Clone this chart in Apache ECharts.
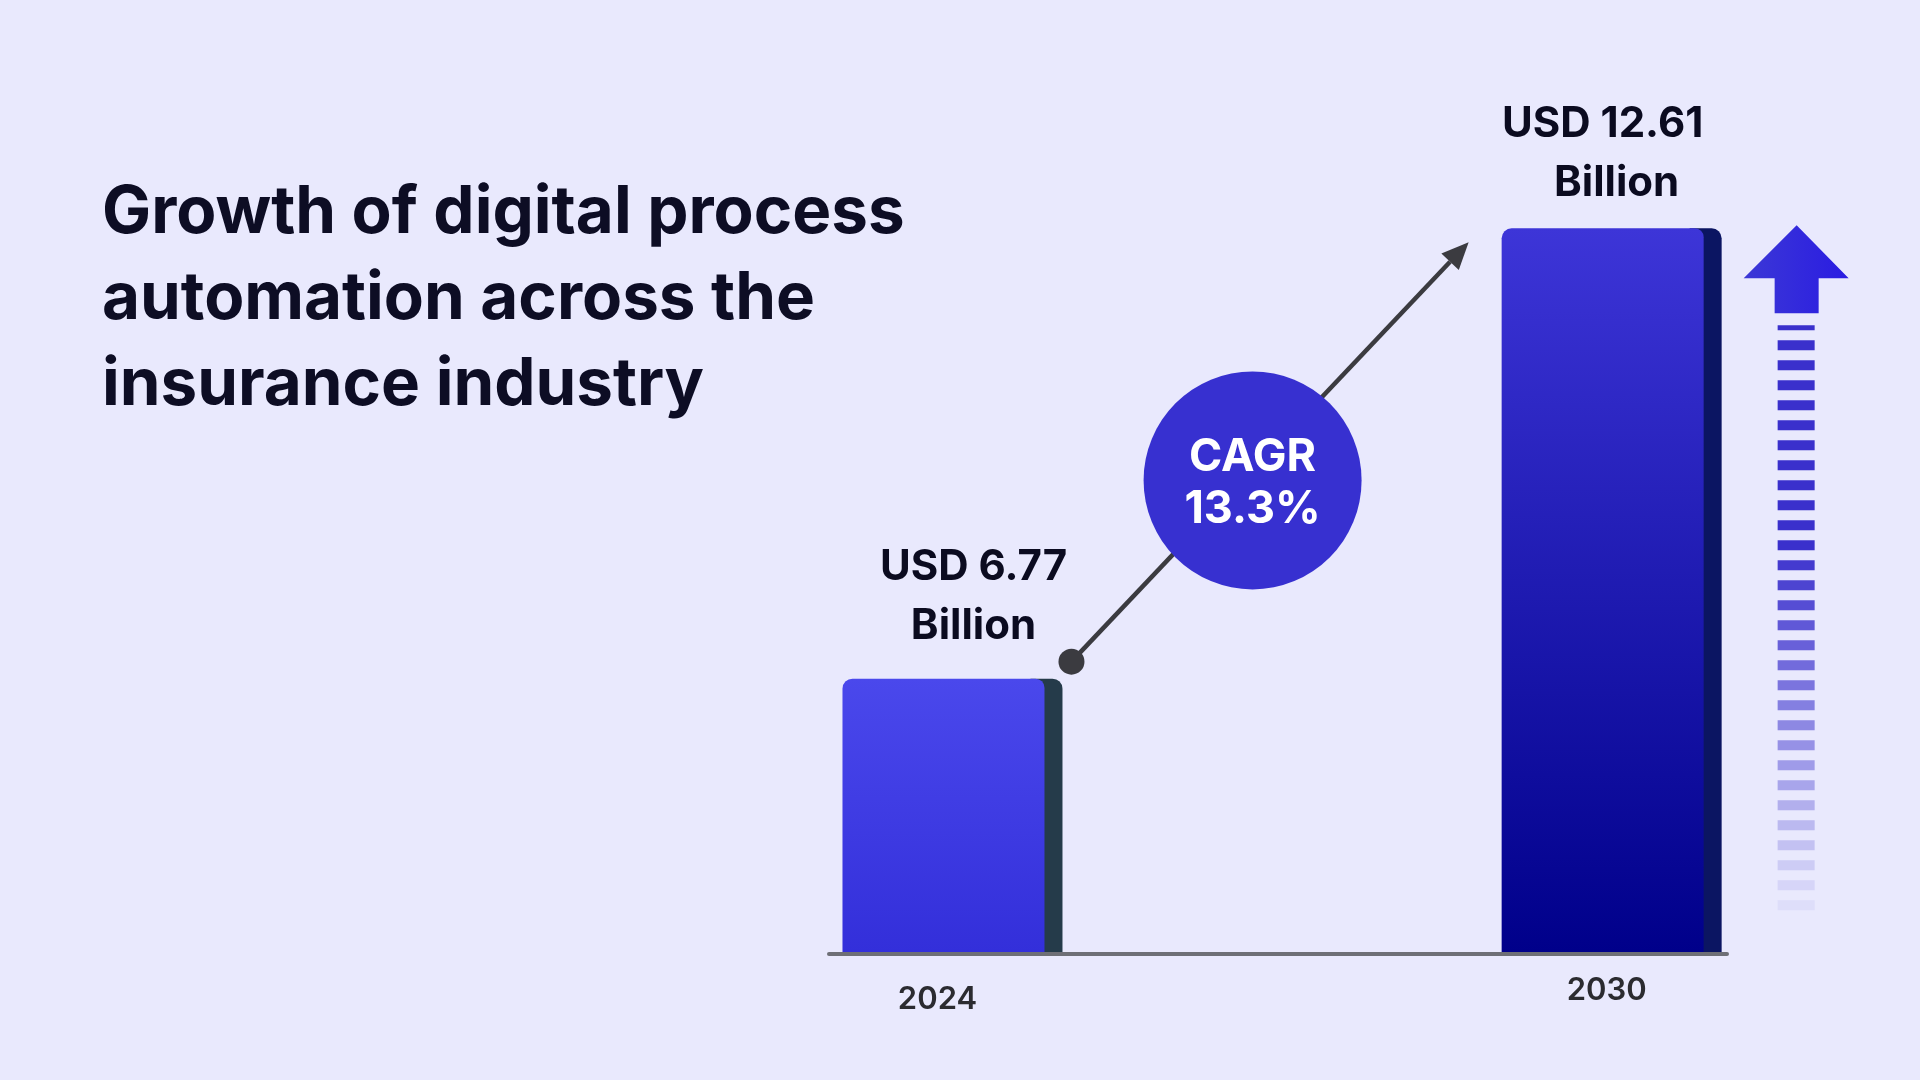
<!DOCTYPE html>
<html>
<head>
<meta charset="utf-8">
<script src="https://cdn.jsdelivr.net/npm/echarts@6/dist/echarts.min.js"></script>
<style>
  html, body { margin: 0; padding: 0; background: #e9e9fd; }
  #chartmain { width: 1920px; height: 1080px; }
</style>
</head>
<body>
<div id="chartmain"></div>
<script>
// chart data
var years = [2024, 2030];
var yearLabels = ['2024', '2030'];
var values = [6.77, 12.61];
var valueLine1 = ['USD 6.77', 'USD 12.61'];
var valueLine2 = ['Billion', 'Billion'];
var cagrText = 'CAGR\n13.3%';
var titleText = 'Growth of digital process\nautomation across the\ninsurance industry';

// look of each bar
var faceTop = ['#4a48ec', '#3d35d8'];
var faceBottom = ['#332fda', '#00008a'];
var sideColor = ['#253b4a', '#0b1562'];
var yearNudge = [[-15, 46], [-5, 37]];
var line1Nudge = [[21, -111], [-9, -104]];
var line2Nudge = [[21, -52], [5, -45]];

var yMin = 3.2;
var barW = 220;
var faceW = 202;

function renderBar(params, api) {
	var i = params.dataIndex;
	var top = api.coord([api.value(0), api.value(1)]);
	var base = api.coord([api.value(0), yMin]);
	var left = top[0] - barW / 2;
	var h = base[1] - top[1] - 2;
	var kids = [];
	kids.push({
		type: 'rect',
		shape: { x: left + faceW - 14, y: top[1], width: barW - faceW + 14, height: h, r: [0, 10, 0, 0] },
		style: { fill: sideColor[i] }
	});
	kids.push({
		type: 'rect',
		shape: { x: left, y: top[1], width: faceW, height: h, r: [10, 9, 0, 0] },
		style: {
			fill: new echarts.graphic.LinearGradient(0, 0, 0, 1, [
				{ offset: 0, color: faceTop[i] },
				{ offset: 1, color: faceBottom[i] }
			])
		}
	});
	var bold = { fill: '#0b0b20', fontSize: 42, fontWeight: 700, fontFamily: 'Inter', textAlign: 'center', textVerticalAlign: 'middle' };
	kids.push({
		type: 'text',
		style: Object.assign({ text: valueLine1[i], x: top[0] + line1Nudge[i][0], y: top[1] + line1Nudge[i][1] }, bold)
	});
	kids.push({
		type: 'text',
		style: Object.assign({ text: valueLine2[i], x: top[0] + line2Nudge[i][0], y: top[1] + line2Nudge[i][1] }, bold)
	});
	kids.push({
		type: 'text',
		style: {
			text: yearLabels[i], x: base[0] + yearNudge[i][0], y: base[1] + yearNudge[i][1],
			fill: '#2b2b30', fontSize: 31, fontWeight: 600, fontFamily: 'Inter',
			textAlign: 'center', textVerticalAlign: 'middle'
		}
	});

	if (i === 1) {
		// connector arrow with CAGR bubble, from the previous bar to this one
		var p0 = api.coord([years[0], values[0]]);
		var dot = [p0[0] + barW / 2 + 9, p0[1] - 17];
		var tip = [left - 33, top[1] + 14];
		var dx = tip[0] - dot[0], dy = tip[1] - dot[1];
		var len = Math.sqrt(dx * dx + dy * dy);
		var ux = dx / len, uy = dy / len;
		var hb = [tip[0] - ux * 27, tip[1] - uy * 27];
		kids.push({
			type: 'line',
			shape: { x1: dot[0], y1: dot[1], x2: hb[0], y2: hb[1] },
			style: { stroke: '#3b3b40', lineWidth: 4.5 }
		});
		kids.push({
			type: 'polygon',
			shape: { points: [tip, [hb[0] - uy * 12, hb[1] + ux * 12], [hb[0] + uy * 12, hb[1] - ux * 12]] },
			style: { fill: '#3b3b40' }
		});
		kids.push({
			type: 'circle',
			shape: { cx: dot[0], cy: dot[1], r: 13 },
			style: { fill: '#3b3b40' }
		});
		var cx = dot[0] + dx * 0.456, cy = dot[1] + dy * 0.456 + 10;
		kids.push({
			type: 'circle',
			shape: { cx: cx, cy: cy, r: 109 },
			style: { fill: '#3730d0' }
		});
		kids.push({
			type: 'text',
			style: {
				text: cagrText, x: cx, y: cy + 3, fill: '#ffffff', fontSize: 45, fontWeight: 700,
				fontFamily: 'Inter', lineHeight: 52, textAlign: 'center', textVerticalAlign: 'middle'
			}
		});

		// up arrow with fading dashes, right of this bar
		var ax = left + barW + 75;
		var ay = top[1] - 3;
		kids.push({
			type: 'polygon',
			shape: { points: [[ax, ay], [ax + 52, ay + 53], [ax + 22, ay + 53], [ax + 22, ay + 88], [ax - 22, ay + 88], [ax - 22, ay + 53], [ax - 53, ay + 53]] },
			style: {
				fill: new echarts.graphic.LinearGradient(0, 0, 1, 0, [
					{ offset: 0, color: '#3c38d6' },
					{ offset: 1, color: '#2a1ce2' }
				])
			}
		});
		kids.push({
			type: 'rect',
			shape: { x: ax - 19, y: ay + 100, width: 37, height: 5 },
			style: { fill: '#3a30cc' }
		});
		for (var y = ay + 115; y < base[1] - 40; y += 20) {
			var a = y < 540 ? 1 : Math.max(0.06, 1 - (y - 540) / 380);
			kids.push({
				type: 'rect',
				shape: { x: ax - 19, y: y, width: 37, height: 10 },
				style: { fill: '#3a30cc', opacity: a }
			});
		}
	}
	return { type: 'group', children: kids };
}

var option = {
	backgroundColor: '#e9e9fd',
	animation: false,
	title: {
		text: titleText,
		left: 102,
		top: 170,
		padding: 0,
		textStyle: { color: '#0d0d24', fontSize: 65.5, fontWeight: 700, fontFamily: 'Inter', lineHeight: 86 }
	},
	grid: { left: 829, right: 193, top: 121, bottom: 126 },
	xAxis: {
		type: 'value',
		min: 2022.876,
		max: 2031.05,
		z: 5,
		axisLine: { show: true, lineStyle: { color: '#6e6f76', width: 4 } },
		axisTick: { show: false },
		axisLabel: { show: false },
		splitLine: { show: false }
	},
	yAxis: {
		type: 'value',
		min: yMin,
		max: 14,
		show: false
	},
	series: [{
		type: 'custom',
		renderItem: renderBar,
		clip: false,
		encode: { x: 0, y: 1 },
		data: years.map(function (y, i) { return [y, values[i]]; })
	}]
};

var myChart = echarts.init(document.getElementById('chartmain'));
myChart.setOption(option);
</script>
</body>
</html>
